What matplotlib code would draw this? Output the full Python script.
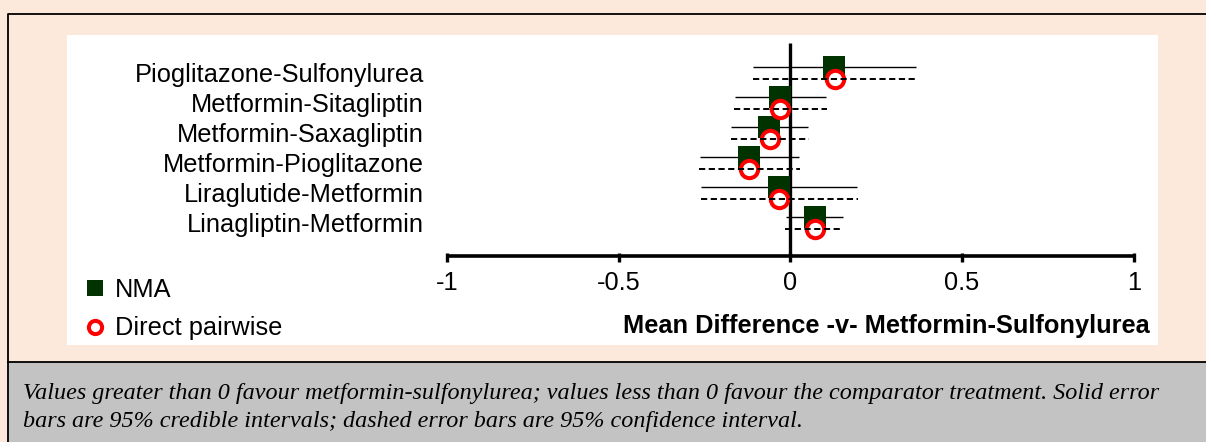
import numpy as np
import matplotlib
matplotlib.use('Agg')
import matplotlib.pyplot as plt
from matplotlib.patches import Rectangle
from matplotlib.lines import Line2D

# comparisons, top to bottom
comparisons = ['Pioglitazone-Sulfonylurea', 'Metformin-Sitagliptin', 'Metformin-Saxagliptin',
               'Metformin-Pioglitazone', 'Liraglutide-Metformin', 'Linagliptin-Metformin']

# NMA mean difference with 95% credible interval
nma_mean = [0.127, -0.030, -0.062, -0.120, -0.033, 0.072]
nma_low = [-0.109, -0.161, -0.172, -0.263, -0.259, -0.012]
nma_high = [0.366, 0.105, 0.052, 0.026, 0.195, 0.154]

# direct pairwise mean difference with 95% confidence interval
direct_mean = [0.130, -0.030, -0.059, -0.119, -0.033, 0.072]
direct_low = [-0.109, -0.164, -0.172, -0.266, -0.261, -0.014]
direct_high = [0.373, 0.107, 0.055, 0.028, 0.196, 0.144]

xticks = [-1, -0.5, 0, 0.5, 1]
xtick_labels = ['-1', '-0.5', '0', '0.5', '1']

caption = ['Values greater than 0 favour metformin-sulfonylurea; values less than 0 favour the '
           'comparator treatment. Solid error',
           'bars are 95% credible intervals; dashed error bars are 95% confidence interval.']

W, H = 1206, 442
PEACH = '#fde9db'
GRAY = '#c3c3c3'
GREEN = '#003300'
SANS = 'Liberation Sans'
FS = 18.3


def fx(px):
    return px / W


def fy(py):
    return 1 - py / H


fig = plt.figure(figsize=(W / 100, H / 100), dpi=100, facecolor=PEACH)

# caption box and frame
fig.add_artist(Rectangle((fx(9), 0), 1 - fx(9), fy(362), transform=fig.transFigure,
                         facecolor=GRAY, edgecolor='none'))
fig.add_artist(Line2D([fx(8), fx(8), 1], [0, fy(14), fy(14)], transform=fig.transFigure,
                      color='black', lw=1.3))
fig.add_artist(Line2D([fx(8), 1], [fy(362), fy(362)], transform=fig.transFigure,
                      color='black', lw=1.3))

# white plot panel (x: 1 unit = 343.5 px, zero at 790.3 px; y: 1 row = 30 px)
ax = fig.add_axes([fx(67), fy(345), fx(1158) - fx(67), (345 - 35) / H])
ax.set_facecolor('white')
for s in ax.spines.values():
    s.set_visible(False)
ax.set_xticks([])
ax.set_yticks([])
ax.set_xlim((67 - 790.3) / 343.5, (1158 - 790.3) / 343.5)
ax.set_ylim(-(345 - 72.7) / 30, -(35 - 72.7) / 30)

y = -np.arange(len(comparisons))
y_axis = -(255.5 - 72.7) / 30

# zero line and x axis
ax.plot([0, 0], [0.99, y_axis], color='black', lw=2.4, solid_capstyle='butt', zorder=2)
ax.plot([-1, 1], [y_axis, y_axis], color='black', lw=2.6, solid_capstyle='butt', zorder=2)
ax.vlines(xticks, y_axis + 0.08, y_axis - 0.22, color='black', lw=2.4, zorder=2)
for t, lab in zip(xticks, xtick_labels):
    ax.text(t, -(283.5 - 72.7) / 30, lab, ha='center', va='center', fontsize=FS, family=SANS)
ax.text((1150 - 790.3) / 343.5, -(326 - 72.7) / 30, 'Mean Difference -v- Metformin-Sulfonylurea',
        ha='right', va='center', fontsize=FS, fontweight='bold', family=SANS)

# row labels
for yi, name in zip(y, comparisons):
    ax.text((424 - 790.3) / 343.5, yi - 0.32, name, ha='right', va='baseline',
            fontsize=FS, family=SANS)

# intervals and point estimates
ax.hlines(y + 0.2, nma_low, nma_high, color='black', lw=1.0, zorder=3)
ax.plot(nma_mean, y + 0.2, 's', ms=15.8, color=GREEN, mew=0, zorder=4)
ax.plot(direct_mean, y - 0.22, 'o', ms=12.5, mfc='white', mec='red', mew=2.9, zorder=5)
ax.hlines(y - 0.22, direct_low, direct_high, color='black', lw=1.4,
          linestyles=(0, (3.2, 1.8)), zorder=6)

# legend
handles = [Line2D([], [], ls='none', marker='s', ms=11, color=GREEN, mew=0),
           Line2D([], [], ls='none', marker='o', ms=9.5, mfc='white', mec='red', mew=2.9)]
fig.legend(handles, ['NMA', 'Direct pairwise'], loc='upper left',
           bbox_to_anchor=(fx(85), fy(278)), frameon=False, prop={'family': SANS, 'size': FS},
           handlelength=0.8, handletextpad=0.38, labelspacing=0.57, borderpad=0, borderaxespad=0)

# caption
for i, line in enumerate(caption):
    fig.text(fx(23), fy(398.5 + 28.5 * i), line, fontsize=17.4, fontstyle='italic',
             family='Liberation Serif', va='baseline')

fig.savefig('out.png', dpi=100, facecolor=PEACH)
